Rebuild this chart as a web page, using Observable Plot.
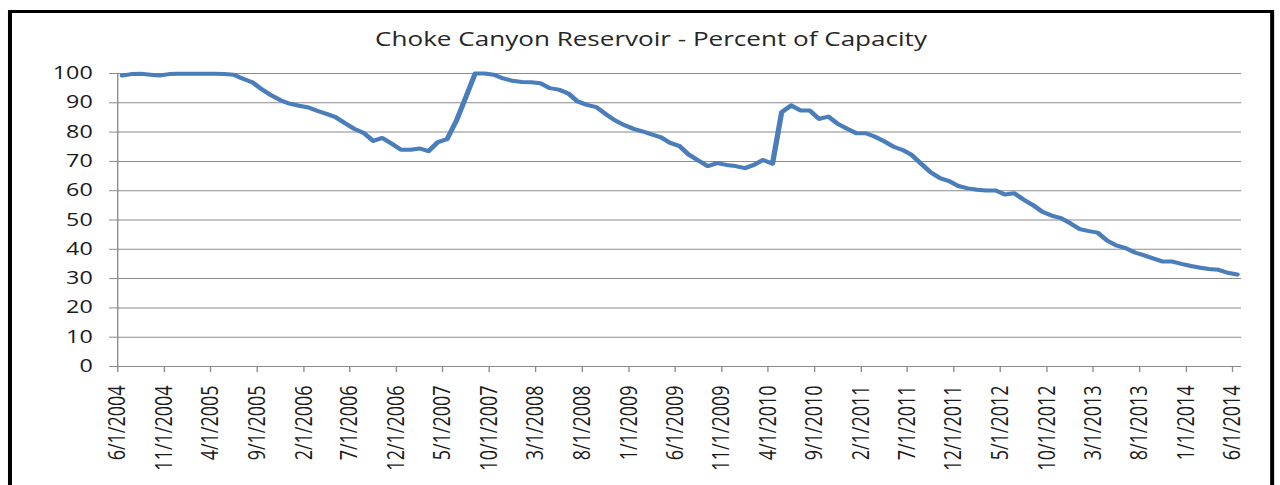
<!DOCTYPE html>
<html>
<head>
<meta charset="utf-8">
<script src="https://cdn.jsdelivr.net/npm/d3@7"></script>
<script src="https://cdn.jsdelivr.net/npm/@observablehq/plot@0.6"></script>
<style>
  html, body { margin: 0; padding: 0; background: #fff; width: 1280px; height: 485px; overflow: hidden; }
  #stage { position: absolute; left: 0; top: 0; width: 962.4px; height: 485px;
           transform: scaleX(1.33); transform-origin: 0 0; font-family: "Open Sans", sans-serif; }
  #frame { position: absolute; left: 6px; top: 10px; width: 952px; height: 530px;
           border: 3px solid #000; box-sizing: border-box; }
  #chart { position: absolute; left: 0; top: 0; width: 979px; }
  #title { height: 60px; box-sizing: border-box; padding-top: 25px; line-height: normal;
           font-size: 19.6px; text-align: center; color: #262626; white-space: nowrap; }
  #chart svg { display: block; }
  #chart svg [aria-label="x-axis tick"], #chart svg [aria-label="y-axis tick"],
  #chart svg [aria-label="x-axis"] line, #chart svg [aria-label="y-axis"] line,
  #chart svg [aria-label="x-axis"] path, #chart svg [aria-label="y-axis"] path { stroke: #8a8a8a; }
  #chart svg [aria-label="x-axis tick label"] text, #chart svg [aria-label="x-axis"] text { font-size: 18px; fill: #1a1a1a; }
  #chart svg [aria-label="y-axis tick label"] text, #chart svg [aria-label="y-axis"] text { font-size: 17.5px; fill: #1a1a1a; }
</style>
</head>
<body>
<div id="stage">
  <div id="frame"></div>
  <div id="chart">
    <div id="title">Choke Canyon Reservoir - Percent of Capacity</div>
  </div>
</div>
<script>
// Monthly readings, June 2004 through June 2014 (percent of capacity)
const firstYear = 2004;
const firstMonth = 6; // June
const percentOfCapacity = [
  99.3, 99.8, 99.9, 99.6, 99.3, 99.8, 99.9, 99.9, 99.9, 99.9,
  99.9, 99.8, 99.6, 98.2, 97.0, 94.6, 92.6, 90.9, 89.7, 89.0,
  88.4, 87.3, 86.2, 85.1, 83.0, 81.1, 79.7, 77.0, 78.0, 76.0,
  74.0, 74.0, 74.4, 73.5, 76.6, 77.6, 84.0, 91.8, 100, 100,
  99.6, 98.3, 97.5, 97.1, 97.0, 96.7, 95.0, 94.5, 93.2, 90.5,
  89.3, 88.5, 86.2, 84.0, 82.4, 81.1, 80.2, 79.2, 78.2, 76.3,
  75.2, 72.3, 70.3, 68.4, 69.4, 68.8, 68.4, 67.7, 68.9, 70.5,
  69.2, 86.8, 89.1, 87.4, 87.4, 84.5, 85.3, 82.8, 81.2, 79.6,
  79.6, 78.5, 76.9, 75.1, 73.9, 72.2, 69.2, 66.3, 64.3, 63.3,
  61.6, 60.8, 60.3, 60.1, 60.1, 58.7, 59.1, 57.0, 55.1, 52.8,
  51.5, 50.6, 48.9, 46.9, 46.2, 45.7, 43.0, 41.3, 40.4, 38.9,
  37.9, 36.8, 35.8, 35.8, 35.0, 34.3, 33.7, 33.3, 33.0, 32.0, 31.4
];
const xTickLabels = [
  "6/1/2004", "11/1/2004", "4/1/2005", "9/1/2005", "2/1/2006", "7/1/2006",
  "12/1/2006", "5/1/2007", "10/1/2007", "3/1/2008", "8/1/2008", "1/1/2009",
  "6/1/2009", "11/1/2009", "4/1/2010", "9/1/2010", "2/1/2011", "7/1/2011",
  "12/1/2011", "5/1/2012", "10/1/2012", "3/1/2013", "8/1/2013", "1/1/2014", "6/1/2014"
];
const yTicks = [0, 10, 20, 30, 40, 50, 60, 70, 80, 90, 100];

// each monthly reading sits in the middle of its month
const data = percentOfCapacity.map((v, i) => ({
  date: new Date(Date.UTC(firstYear, firstMonth - 1 + i, 16)),
  pct: v
}));
const parse = d3.utcParse("%m/%d/%Y");
const tickDates = xTickLabels.map(parse);
const xDomain = [new Date(Date.UTC(firstYear, firstMonth - 1, 1)), new Date(Date.UTC(2014, 6, 1))];

const chart = Plot.plot({
  width: 962.4,
  height: 425,
  marginLeft: 88,
  marginRight: 29.3,
  marginTop: 13,
  marginBottom: 119,
  style: { fontFamily: "Open Sans, sans-serif", fontSize: "17px", color: "#8a8a8a", background: "transparent", overflow: "visible" },
  x: {
    type: "utc",
    domain: xDomain,
    ticks: tickDates,
    tickFormat: d3.utcFormat("%-m/%-d/%Y"),
    tickRotate: -90,
    tickSize: 6,
    tickPadding: 13,
    label: null
  },
  y: {
    domain: [0, 100],
    ticks: yTicks,
    tickSize: 6,
    tickPadding: 12.8,
    label: null
  },
  marks: [
    Plot.ruleY(yTicks, { stroke: "#8a8a8a", strokeWidth: 1 }),
    Plot.ruleX([xDomain[0]], { y1: 0, y2: 100, stroke: "#8a8a8a", strokeWidth: 1 }),
    Plot.line(data, { x: "date", y: "pct", stroke: "#4a7ebb", strokeWidth: 4,
                      strokeLinejoin: "round", strokeLinecap: "round" })
  ]
});
document.getElementById("chart").appendChild(chart);
</script>
</body>
</html>
